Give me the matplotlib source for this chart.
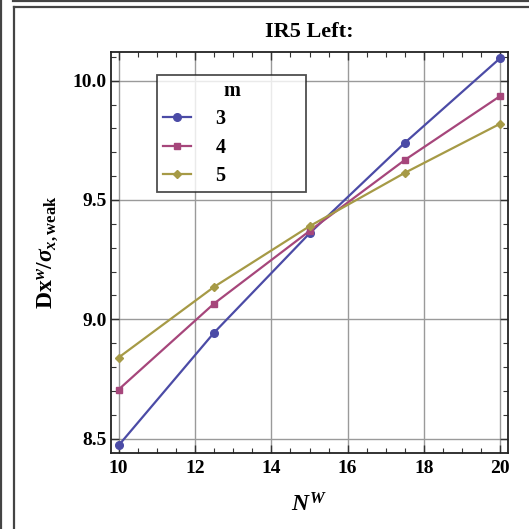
import matplotlib
matplotlib.use("Agg")
import matplotlib.pyplot as plt
from matplotlib.lines import Line2D
from matplotlib.ticker import MultipleLocator

n_w = [10, 12.5, 15, 17.5, 20]
m_values = ["3", "4", "5"]
dx_m3 = [8.472, 8.944, 9.360, 9.740, 10.095]
dx_m4 = [8.706, 9.066, 9.370, 9.668, 9.936]
dx_m5 = [8.840, 9.136, 9.390, 9.614, 9.820]
series = [dx_m3, dx_m4, dx_m5]

colors = ["#4b4ba6", "#a6467b", "#a69a46"]
markers = ["o", "s", "D"]
marker_sizes = [5.5, 5, 4.5]

plt.rcParams["font.family"] = ["Liberation Serif", "DejaVu Serif"]
plt.rcParams["font.weight"] = "bold"
plt.rcParams["mathtext.fontset"] = "custom"
plt.rcParams["mathtext.rm"] = "Liberation Serif:bold"
plt.rcParams["mathtext.bf"] = "Liberation Serif:bold"
plt.rcParams["mathtext.it"] = "Liberation Serif:italic:bold"

fig = plt.figure(figsize=(5.29, 5.29), dpi=100)
W = H = 529.0
ax = fig.add_axes([111 / W, 1 - 453 / H, 397 / W, 401 / H])

for vals, c, mk, ms, lab in zip(series, colors, markers, marker_sizes, m_values):
    ax.plot(n_w, vals, color=c, lw=1.6, marker=mk, ms=ms, label=lab,
            zorder=3, clip_on=False)

ax.set_xlim(9.8, 20.2)
ax.set_ylim(8.44, 10.12)
ax.xaxis.set_major_locator(MultipleLocator(2))
ax.xaxis.set_minor_locator(MultipleLocator(0.5))
ax.yaxis.set_major_locator(MultipleLocator(0.5))
ax.yaxis.set_minor_locator(MultipleLocator(0.1))
ax.yaxis.set_major_formatter(matplotlib.ticker.FormatStrFormatter("%.1f"))
ax.tick_params(which="both", direction="in", top=True, right=True,
               labelsize=14, color="#333333")
ax.tick_params(which="major", length=6, width=1)
ax.tick_params(which="minor", length=3.5, width=0.8)
ax.tick_params(axis="x", pad=5)
ax.tick_params(axis="y", pad=3)
for lab in ax.get_xticklabels() + ax.get_yticklabels():
    lab.set_fontweight("bold")
ax.grid(True, which="major", color="#9a9a9a", lw=1)
for sp in ax.spines.values():
    sp.set_linewidth(1.3)
    sp.set_color("#222222")

ax.set_title("IR5 Left:", fontsize=16, fontweight="bold", pad=11)
ax.set_xlabel(r"$N^{W}$", fontsize=17, labelpad=12)
ax.set_ylabel(r"$\mathrm{Dx}^{w}/\sigma_{x,\mathrm{weak}}$", fontsize=17,
              labelpad=9)

leg = ax.legend(title="m", loc="upper left",
                bbox_to_anchor=(157 / W, 1 - 75 / H, 149 / W, 0),
                bbox_transform=fig.transFigure, mode="expand",
                fontsize=14.5, title_fontsize=14.5, frameon=True, fancybox=False,
                handlelength=1.4, handletextpad=1.2, labelspacing=0.42,
                borderpad=0.3, borderaxespad=0)
leg.get_frame().set_edgecolor("#222222")
leg.get_frame().set_linewidth(1.3)
leg.get_title().set_fontweight("bold")
for t in leg.get_texts():
    t.set_fontweight("bold")

# screenshot frame lines
frame_kw = dict(color="#444444", lw=1.6, transform=fig.transFigure)
fig.add_artist(Line2D([1 / W, 1 / W], [0, 1], **frame_kw))
fig.add_artist(Line2D([13 / W, 1], [1 - 1 / H, 1 - 1 / H], **frame_kw))
fig.add_artist(Line2D([14 / W, 14 / W], [0, 1 - 7 / H], **frame_kw))
fig.add_artist(Line2D([14 / W, 1], [1 - 7 / H, 1 - 7 / H], **frame_kw))

fig.savefig("out.png", dpi=100)
